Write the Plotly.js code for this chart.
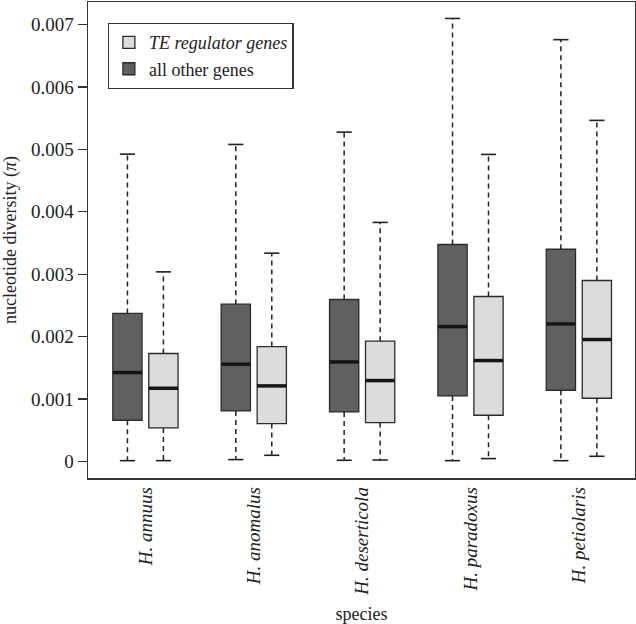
<!DOCTYPE html>
<html>
<head>
<meta charset="utf-8">
<script src="https://cdn.plot.ly/plotly-3.0.1.min.js"></script>
<style>html,body{margin:0;padding:0;background:#fff;}#chart{width:636px;height:624px;}</style>
</head>
<body>
<div id="chart"></div>
<script>
// ---- data ----
const species = ["H. annuus", "H. anomalus", "H. deserticola", "H. paradoxus", "H. petiolaris"];

// all other genes (dark boxes)
const otherLower  = [0.000010, 0.000027, 0.000016, 0.000010, 0.000010];
const otherQ1     = [0.000658, 0.000807, 0.000791, 0.001048, 0.001139];
const otherMedian = [0.001423, 0.001556, 0.001593, 0.002160, 0.002203];
const otherQ3     = [0.002370, 0.002519, 0.002594, 0.003476, 0.003400];
const otherUpper  = [0.004925, 0.005080, 0.005278, 0.007100, 0.006760];

// TE regulator genes (light boxes)
const teLower  = [0.000010, 0.000096, 0.000020, 0.000043, 0.000080];
const teQ1     = [0.000535, 0.000604, 0.000620, 0.000738, 0.001011];
const teMedian = [0.001171, 0.001209, 0.001294, 0.001615, 0.001952];
const teQ3     = [0.001728, 0.001840, 0.001925, 0.002642, 0.002899];
const teUpper  = [0.003037, 0.003337, 0.003830, 0.004920, 0.005466];

const yTickVals = [0, 0.001, 0.002, 0.003, 0.004, 0.005, 0.006, 0.007];
const yTickText = ["0", "0.001", "0.002", "0.003", "0.004", "0.005", "0.006", "0.007"];

// ---- styling / geometry ----
const OFFSET = 0.166;   // half distance between paired boxes (category units)
const HALFW = 0.135;    // half box width
const CAPW = 0.07;      // half staple width
const DARK = "#606060", LIGHT = "#dcdcdc", EDGE = "#2b2b2b";
const FONT = "'Liberation Serif', 'Times New Roman', serif";

const idx = species.map((_, i) => i);
const posOther = idx.map(i => i - OFFSET);
const posTE = idx.map(i => i + OFFSET);

function boxTrace(name, pos, q1, med, q3, fill) {
  return {
    type: "box", name: name, x: pos,
    q1: q1, median: med, q3: q3, lowerfence: q1, upperfence: q3,
    width: 2 * HALFW, whiskerwidth: 0,
    fillcolor: fill, line: {color: EDGE, width: 1.3},
    boxpoints: false, hoverinfo: "skip", orientation: "v"
  };
}
function segs(pos, vals, hw) {
  const x = [], y = [];
  pos.forEach((p, i) => { x.push(p - hw, p + hw, null); y.push(vals[i], vals[i], null); });
  return {x, y};
}
function whiskers(pos, lo, q1, q3, hi) {
  const x = [], y = [];
  pos.forEach((p, i) => {
    x.push(p, p, null, p, p, null);
    y.push(q3[i], hi[i], null, q1[i], lo[i], null);
  });
  return {x, y};
}
function lineTrace(d, width, dash, color) {
  return {type: "scatter", mode: "lines", x: d.x, y: d.y, showlegend: false, hoverinfo: "skip",
          line: {color: color, width: width, dash: dash}, connectgaps: false};
}

const traces = [];
traces.push(lineTrace(whiskers(posOther, otherLower, otherQ1, otherQ3, otherUpper), 1.5, "5px,4px", "#222"));
traces.push(lineTrace(whiskers(posTE, teLower, teQ1, teQ3, teUpper), 1.5, "5px,4px", "#222"));
traces.push(boxTrace("<i>TE regulator genes</i>", posTE, teQ1, teMedian, teQ3, LIGHT));
traces.push(boxTrace("all other genes", posOther, otherQ1, otherMedian, otherQ3, DARK));
traces.push(lineTrace(segs(posOther, otherUpper, CAPW), 1.6, "solid", "#222"));
traces.push(lineTrace(segs(posOther, otherLower, CAPW), 1.6, "solid", "#222"));
traces.push(lineTrace(segs(posTE, teUpper, CAPW), 1.6, "solid", "#222"));
traces.push(lineTrace(segs(posTE, teLower, CAPW), 1.6, "solid", "#222"));
traces.push(lineTrace(segs(posOther, otherMedian, HALFW), 3.5, "solid", "#151515"));
traces.push(lineTrace(segs(posTE, teMedian, HALFW), 3.5, "solid", "#151515"));

const layout = {
  width: 636, height: 624,
  margin: {l: 88, r: 1, t: 2, b: 146},
  paper_bgcolor: "#fff", plot_bgcolor: "#fff",
  font: {family: FONT, size: 18, color: "#222"},
  showlegend: true,
  legend: {
    x: 0.036, y: 0.956, xanchor: "left", yanchor: "top",
    bordercolor: "#333", borderwidth: 1.2, bgcolor: "#fff",
    font: {family: FONT, size: 18, color: "#222"},
    tracegroupgap: 0, itemwidth: 30
  },
  xaxis: {
    range: [-0.53, 4.518], tickvals: idx,
    ticktext: species.map(s => "<i>" + s + "</i>"),
    tickangle: -90, ticks: "", showgrid: false, zeroline: false,
    showline: true, mirror: true, linecolor: "#333", linewidth: 1.5,
    tickfont: {family: FONT, size: 19, color: "#222"},
    title: {text: "species", font: {family: FONT, size: 18, color: "#222"}, standoff: 18}
  },
  yaxis: {
    range: [-0.000268, 0.007364], tickvals: yTickVals, ticktext: yTickText,
    ticks: "outside", ticklen: 9, tickwidth: 1.3, tickcolor: "#333",
    showgrid: false, zeroline: false,
    showline: true, mirror: true, linecolor: "#333", linewidth: 1.5,
    tickfont: {family: FONT, size: 19, color: "#222"},
    title: {text: "nucleotide diversity (<i>π</i>)", font: {family: FONT, size: 18, color: "#222"}, standoff: 9}
  }
};

Plotly.newPlot("chart", traces, layout, {displayModeBar: false, staticPlot: true});
</script>
</body>
</html>
